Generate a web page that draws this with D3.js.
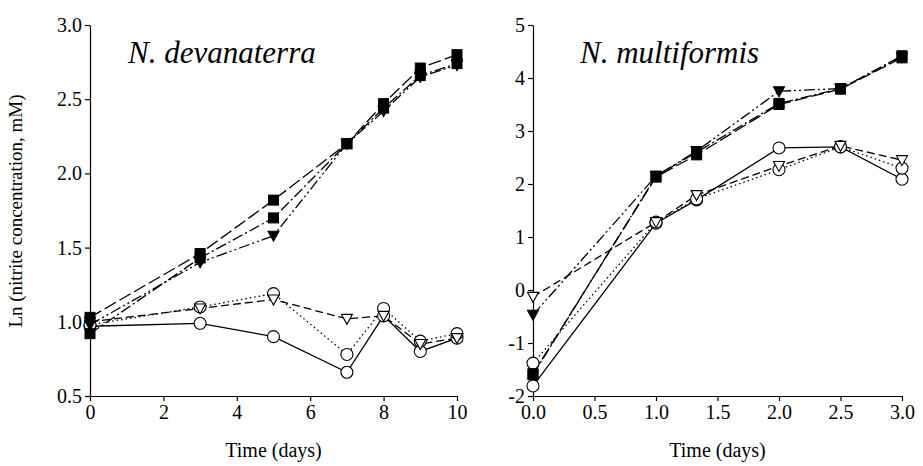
<!DOCTYPE html>
<html>
<head>
<meta charset="utf-8">
<script src="https://cdn.jsdelivr.net/npm/d3@7"></script>
<style>
  html, body { margin: 0; padding: 0; background: #fff; }
  svg text { font-family: "Liberation Serif", "Times New Roman", serif; fill: #000; }
</style>
</head>
<body>
<svg id="chart" width="923" height="466"></svg>
<script>
// Sampling times (days)
const timesDev = [0, 3, 5, 7, 8, 9, 10];
const timesMul = [0, 1, 1.33, 2, 2.5, 3];

// N. devanaterra — Ln nitrite (mM)
const devA = [1.03, 1.46, 1.82, 2.20, 2.47, 2.71, 2.80];
const devB = [0.92, 1.43, 1.70, 2.20, 2.44, 2.66, 2.74];
const devC = [0.98, 1.40, 1.58, 2.20, 2.42, 2.65, 2.73];
const devD = [1.00, 1.09, 1.15, 1.02, 1.04, 0.85, 0.89];
const devE = [0.98, 1.10, 1.19, 0.78, 1.09, 0.87, 0.92];
const devF = [0.97, 0.99, 0.90, 0.66, 1.04, 0.80, 0.89];

// N. multiformis — Ln nitrite (mM)
const mulA = [-1.58, 2.13, 2.55, 3.50, 3.79, 4.38];
const mulB = [-1.60, 2.15, 2.60, 3.52, 3.80, 4.42];
const mulC = [-0.47, 2.15, 2.62, 3.75, 3.80, 4.40];
const mulD = [-0.13, 1.28, 1.79, 2.34, 2.72, 2.45];
const mulE = [-1.38, 1.28, 1.72, 2.27, 2.70, 2.30];
const mulF = [-1.81, 1.26, 1.70, 2.68, 2.70, 2.09];

// Axis ticks
const devXTicks = [0, 2, 4, 6, 8, 10];
const devYTicks = [0.5, 1.0, 1.5, 2.0, 2.5, 3.0];
const mulXTicks = [0, 0.5, 1.0, 1.5, 2.0, 2.5, 3.0];
const mulYTicks = [-2, -1, 0, 1, 2, 3, 4, 5];

const titles = ["N. devanaterra", "N. multiformis"];
const xLabel = "Time (days)";
const yLabel = "Ln (nitrite concentration, mM)";

const SERIF = "'Liberation Serif', 'Times New Roman', serif";

// Line style and marker for each treatment series
const styles = [
  { dash: "13,4",               marker: "square",   fill: "#000" },
  { dash: "11,3,2,3",           marker: "square",   fill: "#000" },
  { dash: "11,3,2,3,2,3",       marker: "triangle", fill: "#000" },
  { dash: "8,4",                marker: "triangle", fill: "#fff" },
  { dash: "1.5,3",              marker: "circle",   fill: "#fff" },
  { dash: null,                 marker: "circle",   fill: "#fff" }
];

const svg = d3.select("#chart");

function panel(opts) {
  const g = svg.append("g");
  const x = d3.scaleLinear().domain(opts.xDomain).range([opts.left, opts.right]);
  const y = d3.scaleLinear().domain(opts.yDomain).range([opts.bottom, opts.top]);

  // axes
  const xa = g.append("g").attr("transform", `translate(0,${opts.bottom})`)
    .call(d3.axisBottom(x).tickValues(opts.xTicks).tickFormat(opts.xFmt).tickSize(5).tickSizeOuter(0));
  const ya = g.append("g").attr("transform", `translate(${opts.left},0)`)
    .call(d3.axisLeft(y).tickValues(opts.yTicks).tickFormat(opts.yFmt).tickSize(5).tickSizeOuter(0));
  [xa, ya].forEach(a => {
    a.attr("font-family", SERIF).attr("font-size", 20);
    a.selectAll("path.domain").attr("stroke", "#000").attr("stroke-width", 1.2);
    a.selectAll(".tick line").attr("stroke", "#000").attr("stroke-width", 1.2);
    a.selectAll(".tick text").attr("font-family", SERIF).attr("font-size", 20);
  });
  xa.selectAll(".tick text").attr("dy", "0.71em").attr("y", 9);
  ya.selectAll(".tick text").attr("x", -8);

  // series lines
  const line = d3.line().x((d, i) => x(opts.times[i])).y(d => y(d));
  opts.series.forEach((s, k) => {
    const st = styles[k];
    g.append("path").datum(s)
      .attr("d", line)
      .attr("fill", "none")
      .attr("stroke", "#000")
      .attr("stroke-width", 1.3)
      .attr("stroke-dasharray", st.dash);
  });

  // markers (drawn bottom-up so the filled series sit on top)
  for (let k = opts.series.length - 1; k >= 0; k--) {
    const st = styles[k];
    const pts = opts.series[k].map((v, i) => [x(opts.times[i]), y(v)]);
    const mg = g.append("g");
    pts.forEach(([px, py]) => {
      if (st.marker === "square") {
        mg.append("rect").attr("x", px - 5).attr("y", py - 5).attr("width", 10).attr("height", 10)
          .attr("fill", st.fill).attr("stroke", "#000").attr("stroke-width", 1);
      } else if (st.marker === "triangle") {
        mg.append("path")
          .attr("d", `M${px - 5.5},${py - 4.5} L${px + 5.5},${py - 4.5} L${px},${py + 5.5} Z`)
          .attr("fill", st.fill).attr("stroke", "#000").attr("stroke-width", 1.1);
      } else {
        mg.append("circle").attr("cx", px).attr("cy", py).attr("r", 6)
          .attr("fill", st.fill).attr("stroke", "#000").attr("stroke-width", 1.1);
      }
    });
  }

  // title
  g.append("text")
    .attr("x", opts.titleX).attr("y", 63)
    .attr("font-family", SERIF)
    .style("font-size", "31px").style("font-style", "italic")
    .text(opts.title);

  // x label
  g.append("text")
    .attr("x", (opts.left + opts.right) / 2).attr("y", 457)
    .attr("text-anchor", "middle")
    .attr("font-family", SERIF)
    .style("font-size", "20px")
    .text(xLabel);
}

const fmtHyphen = d => (d < 0 ? "-" + Math.abs(d) : String(d));

panel({
  left: 90, right: 457, top: 25, bottom: 396,
  xDomain: [0, 10], yDomain: [0.5, 3.0],
  xTicks: devXTicks, yTicks: devYTicks,
  xFmt: d3.format("d"), yFmt: d3.format(".1f"),
  times: timesDev,
  series: [devA, devB, devC, devD, devE, devF],
  title: titles[0], titleX: 128
});

panel({
  left: 533, right: 902, top: 25, bottom: 396,
  xDomain: [0, 3], yDomain: [-2, 5],
  xTicks: mulXTicks, yTicks: mulYTicks,
  xFmt: d3.format(".1f"), yFmt: fmtHyphen,
  times: timesMul,
  series: [mulA, mulB, mulC, mulD, mulE, mulF],
  title: titles[1], titleX: 580
});

// shared y-axis label
svg.append("text")
  .attr("transform", "translate(22,211) rotate(-90)")
  .attr("text-anchor", "middle")
  .attr("font-family", SERIF)
  .style("font-size", "19px")
  .text(yLabel);
</script>
</body>
</html>
